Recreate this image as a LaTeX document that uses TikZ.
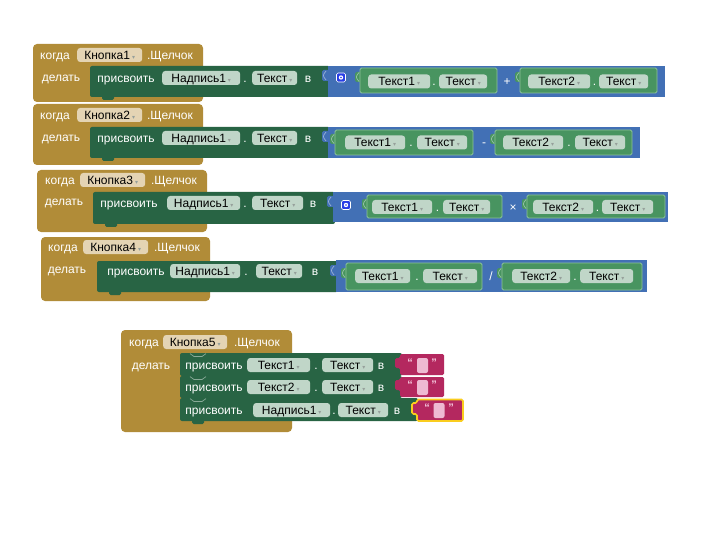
\documentclass[tikz,border=0pt]{standalone}
\usepackage{fontspec}
\setmainfont{Liberation Sans}
\newfontfamily\dvfont{DejaVu Sans}
\definecolor{evbrown}{RGB}{177,140,56}
\definecolor{setgreen}{RGB}{40,100,68}
\definecolor{mathblue}{RGB}{66,112,181}
\definecolor{getgreen}{RGB}{72,148,96}
\definecolor{getedge}{RGB}{140,196,152}
\definecolor{fieldpale}{RGB}{192,214,200}
\definecolor{evfield}{RGB}{228,212,180}
\definecolor{textred}{RGB}{180,40,95}
\definecolor{quotepink}{RGB}{248,205,225}
\definecolor{palepink}{RGB}{238,185,210}
\definecolor{hlyellow}{RGB}{250,205,30}
\definecolor{gearblue}{RGB}{40,62,230}
\definecolor{arrc}{RGB}{150,160,155}
\newcommand{\ddarr}{{\dvfont\fontsize{6}{6}\selectfont\color{arrc}▾}}
\newcommand{\fld}[6]{\node[fldst, fill=#6, minimum width=#3pt, anchor=west] (#1) at (#2,#4) {#5\,\ddarr};}
\newcommand{\btab}[4]{\fill[#4, rounded corners=1.5pt] (#1,#2) rectangle ++(7,#3);}
\newcommand{\tabline}[3]{\draw[#3!55!white, line width=0.7pt] (#1,#2) .. controls (#1-3.5,#2+4.5) .. (#1,#2+9);}
\begin{document}
\begin{tikzpicture}[x=1pt,y=-1pt,
  lbl/.style={text=white, font=\fontsize{12}{14}\selectfont, inner sep=0pt, text height=8.6pt, text depth=0pt},
  fldst/.style={rounded corners=3pt, text=black, font=\fontsize{12}{14}\selectfont, inner xsep=3pt, inner ysep=0pt, minimum height=14pt, text height=8.6pt, text depth=0pt},
  evst/.style={fill=evbrown, rounded corners=4pt},
  setst/.style={fill=setgreen, rounded corners=2pt},
  mathst/.style={fill=mathblue},
  getst/.style={fill=getgreen, draw=getedge, line width=0.8pt, rounded corners=1.5pt},
  gearst/.style={fill=gearblue, draw=white, line width=0.6pt, rounded corners=1.5pt, minimum size=9pt, inner sep=0pt},
  notch/.style={draw=setgreen!55!white, line width=0.7pt},
  quot/.style={text=quotepink, font=\bfseries\fontsize{11}{11}\selectfont, inner sep=0pt},
  palest/.style={fill=palepink, rounded corners=2pt, minimum width=11pt, minimum height=15pt, inner sep=0pt}
]
\useasboundingbox (0,0) rectangle (720,540);
\fill[white] (0,0) rectangle (720,540);

% ================= Block 1 =================
\fill[evst] (33,44) rectangle (203,102);
\fill[setst] (90,66) rectangle (330,97);
\fill[setgreen, rounded corners=1.5pt] (102,95) rectangle (114,100);
\fill[mathst] (328,66) rectangle (665,97);
\btab{322}{70}{11}{mathblue}\tabline{326}{71}{mathblue}
\node[lbl] (k1) at (55,55) {когда};
\fld{b1}{77}{65}{55}{Кнопка1}{evfield}
\node[lbl] (c1) at (170,55) {.Щелчок};
\node[lbl] (d1) at (61,77) {делать};
\node[lbl] (p1) at (126,78) {присвоить};
\fld{n1}{162}{78}{78}{Надпись1}{fieldpale}
\node[lbl] (dt1) at (245,78) {.};
\fld{t1}{252}{45}{78}{Текст}{fieldpale}
\node[lbl] (v1) at (308,78) {в};
\node[gearst] (g1) at (341,77.5) {};
\fill[white] (g1.center) circle (2.2pt); \fill[gearblue] (g1.center) circle (0.9pt);
\btab{355}{72}{10}{getgreen}\tabline{359}{72.5}{getgreen}
\draw[getst] (360,68) rectangle (497,93);
\fld{a1}{368}{62}{81.5}{Текст1}{fieldpale}
\node[lbl] (da1) at (434,81.5) {.};
\fld{a1b}{439}{48}{81.5}{Текст}{fieldpale}
\node[lbl] (op1) at (507,81.5) {+};
\btab{515}{72}{10}{getgreen}\tabline{519}{72.5}{getgreen}
\draw[getst] (520,68) rectangle (657,93);
\fld{e1}{528}{62}{81.5}{Текст2}{fieldpale}
\node[lbl] (de1) at (594.5,81.5) {.};
\fld{e1b}{599}{49}{81.5}{Текст}{fieldpale}

% ================= Block 2 =================
\fill[evst] (33,104) rectangle (203,165);
\fill[setst] (90,127) rectangle (330,158);
\fill[setgreen, rounded corners=1.5pt] (102,156) rectangle (114,161);
\fill[mathst] (328,127) rectangle (640,158);
\btab{322}{131}{11}{mathblue}\tabline{326}{132}{mathblue}
\node[lbl] (k2) at (55,115) {когда};
\fld{b2}{77}{65}{115}{Кнопка2}{evfield}
\node[lbl] (c2) at (170,115) {.Щелчок};
\node[lbl] (d2) at (61,137) {делать};
\node[lbl] (p2) at (126,138) {присвоить};
\fld{n2}{162}{78}{138}{Надпись1}{fieldpale}
\node[lbl] (dt2) at (245,138) {.};
\fld{t2}{252}{45}{138}{Текст}{fieldpale}
\node[lbl] (v2) at (308,138) {в};
\btab{330}{134}{10}{getgreen}\tabline{334}{134.5}{getgreen}
\draw[getst] (335,130) rectangle (473,155);
\fld{a2}{345}{60}{142.5}{Текст1}{fieldpale}
\node[lbl] (da2) at (411,142.5) {.};
\fld{a2b}{417}{50}{142.5}{Текст}{fieldpale}
\node[lbl] (op2) at (484,142.5) {-};
\btab{490}{134}{10}{getgreen}\tabline{494}{134.5}{getgreen}
\draw[getst] (495,130) rectangle (632,155);
\fld{e2}{503}{60}{142.5}{Текст2}{fieldpale}
\node[lbl] (de2) at (569,142.5) {.};
\fld{e2b}{575}{50}{142.5}{Текст}{fieldpale}

% ================= Block 3 =================
\fill[evst] (37,170) rectangle (207,232);
\fill[setst] (93,192) rectangle (335,224);
\fill[setgreen, rounded corners=1.5pt] (105,222) rectangle (117,227);
\fill[mathst] (333,192) rectangle (668,222);
\btab{327}{196}{11}{mathblue}\tabline{331}{197}{mathblue}
\node[lbl] (k3) at (60,180) {когда};
\fld{b3}{80}{65}{180}{Кнопка3}{evfield}
\node[lbl] (c3) at (174,180) {.Щелчок};
\node[lbl] (d3) at (64,201) {делать};
\node[lbl] (p3) at (129,203) {присвоить};
\fld{n3}{167}{73}{203}{Надпись1}{fieldpale}
\node[lbl] (dt3) at (245,203) {.};
\fld{t3}{252}{51}{203}{Текст}{fieldpale}
\node[lbl] (v3) at (313,203) {в};
\node[gearst] (g3) at (346,205) {};
\fill[white] (g3.center) circle (2.2pt); \fill[gearblue] (g3.center) circle (0.9pt);
\btab{362}{199}{10}{getgreen}\tabline{366}{199.5}{getgreen}
\draw[getst] (367,195) rectangle (502,218);
\fld{a3}{372}{60}{207}{Текст1}{fieldpale}
\node[lbl] (da3) at (437.5,207) {.};
\fld{a3b}{443}{47}{207}{Текст}{fieldpale}
\node[lbl] (op3) at (513,207) {×};
\btab{522}{199}{10}{getgreen}\tabline{526}{199.5}{getgreen}
\draw[getst] (527,195) rectangle (665,218);
\fld{e3}{533}{60}{207}{Текст2}{fieldpale}
\node[lbl] (de3) at (597.5,207) {.};
\fld{e3b}{602}{51}{207}{Текст}{fieldpale}

% ================= Block 4 =================
\fill[evst] (41,237) rectangle (210,301);
\fill[setst] (97,261) rectangle (338,292);
\fill[setgreen, rounded corners=1.5pt] (109,290) rectangle (121,295);
\fill[mathst] (336,260) rectangle (647,292);
\btab{330}{265}{11}{mathblue}\tabline{334}{266}{mathblue}
\node[lbl] (k4) at (63,247) {когда};
\fld{b4}{83}{65}{247}{Кнопка4}{evfield}
\node[lbl] (c4) at (177,247) {.Щелчок};
\node[lbl] (d4) at (67,269) {делать};
\node[lbl] (p4) at (136,271) {присвоить};
\fld{n4}{170}{70}{271}{Надпись1}{fieldpale}
\node[lbl] (dt4) at (246,271) {.};
\fld{t4}{256}{46}{271}{Текст}{fieldpale}
\node[lbl] (v4) at (315,271) {в};
\btab{341}{268}{10}{getgreen}\tabline{345}{268.5}{getgreen}
\draw[getst] (346,263) rectangle (482,290);
\fld{a4}{355}{55}{276}{Текст1}{fieldpale}
\node[lbl] (da4) at (417,276) {.};
\fld{a4b}{423}{54}{276}{Текст}{fieldpale}
\node[lbl] (op4) at (491,276) {/};
\btab{497}{268}{10}{getgreen}\tabline{501}{268.5}{getgreen}
\draw[getst] (502,263) rectangle (642,290);
\fld{e4}{512}{58}{276}{Текст2}{fieldpale}
\node[lbl] (de4) at (575,276) {.};
\fld{e4b}{580}{53}{276}{Текст}{fieldpale}

% ================= Block 5 =================
\fill[evst] (121,330) rectangle (292,432);
\fill[setst] (180,353) rectangle (402,376);
\fill[setst] (180,376) rectangle (402,398);
\fill[setst] (180,398) rectangle (418,421);
\fill[setgreen, rounded corners=1.5pt] (192,419) rectangle (204,424);
\draw[notch] (190,353.6) -- (194,356.5) -- (202,356.5) -- (206,353.6);
\draw[notch] (190,376.6) -- (194,379.5) -- (202,379.5) -- (206,376.6);
\draw[notch] (190,398.6) -- (194,401.5) -- (202,401.5) -- (206,398.6);
\node[lbl] (k5) at (144,342) {когда};
\fld{b5}{163}{64}{342}{Кнопка5}{evfield}
\node[lbl] (c5) at (257,342) {.Щелчок};
\node[lbl] (d5) at (151,365) {делать};
% row 1
\node[lbl] (p5a) at (214,365) {присвоить};
\fld{n5a}{247}{63}{365}{Текст1}{fieldpale}
\node[lbl] (dt5a) at (316,365) {.};
\fld{t5a}{322}{51}{365}{Текст}{fieldpale}
\node[lbl] (v5a) at (381,365) {в};
% row 2
\node[lbl] (p5b) at (214,387) {присвоить};
\fld{n5b}{247}{63}{387}{Текст2}{fieldpale}
\node[lbl] (dt5b) at (316,387) {.};
\fld{t5b}{322}{51}{387}{Текст}{fieldpale}
\node[lbl] (v5b) at (381,387) {в};
% row 3
\node[lbl] (p5c) at (214,410) {присвоить};
\fld{n5c}{253}{77}{410}{Надпись1}{fieldpale}
\node[lbl] (dt5c) at (334,410) {.};
\fld{t5c}{338}{50}{410}{Текст}{fieldpale}
\node[lbl] (v5c) at (397,410) {в};
% text blocks
\fill[textred, rounded corners=1.5pt] (400,354) -- (444,354) -- (444,375) -- (400,375) -- (400,368) -- (395,368) -- (395,358) -- (400,358) -- cycle;
\node[quot] (qa1) at (410,363) {“};
\node[palest] (sa) at (422.5,365.5) {};
\node[quot] (qa2) at (434,363) {”};
\fill[textred, rounded corners=1.5pt] (400,377) -- (444,377) -- (444,397) -- (400,397) -- (400,390) -- (395,390) -- (395,380) -- (400,380) -- cycle;
\node[quot] (qb1) at (410,385) {“};
\node[palest] (sb) at (422.5,387.5) {};
\node[quot] (qb2) at (434,385) {”};
\filldraw[fill=textred, draw=hlyellow, line width=1.6pt, rounded corners=1.5pt] (417,399.5) -- (463,399.5) -- (463,421) -- (417,421) -- (417,414) -- (412,414) -- (412,403) -- (417,403) -- cycle;
\node[quot] (qc1) at (427,408) {“};
\node[palest] (sc) at (439,410.5) {};
\node[quot] (qc2) at (451,408) {”};
\end{tikzpicture}
\end{document}
